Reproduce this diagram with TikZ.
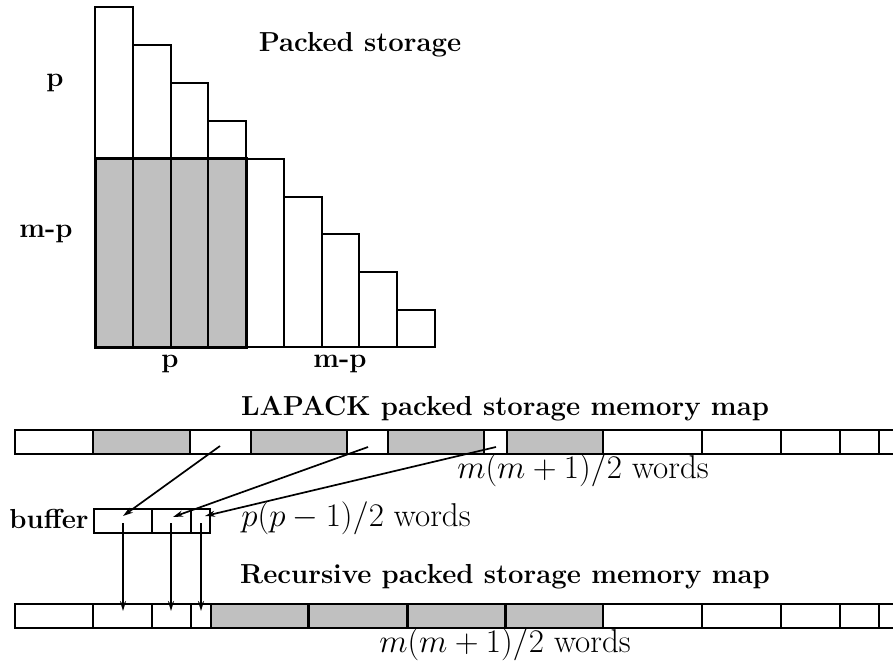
\RequirePackage{fix-cm}
\documentclass[tikz,border=0pt]{standalone}
\usetikzlibrary{arrows.meta}
\definecolor{cellgray}{RGB}{192,192,192}
\tikzset{
  cell/.style={draw=black, line width=2pt},
  thickcell/.style={draw=black, line width=3pt},
  lbl/.style={font=\fontsize{27.5}{32}\selectfont\bfseries, inner sep=0pt, anchor=base},
  mlbl/.style={font=\fontsize{33}{38}\selectfont, inner sep=0pt, anchor=base},
  arr/.style={line width=1.7pt, -{Stealth[length=10pt,width=6pt]}},
}
\begin{document}
\begin{tikzpicture}[x=1pt,y=-1pt]
\useasboundingbox (0,0) rectangle (893,663);
\clip (0,0) rectangle (893,663);

% ---------- packed storage staircase ----------
\fill[cellgray] (95,158.3) rectangle (246,347);
\foreach \i in {0,...,8} {
  \pgfmathsetmacro\xl{95+37.75*\i}
  \pgfmathsetmacro\xr{95+37.75*(\i+1)}
  \pgfmathsetmacro\yt{7+37.9*\i}
  \draw[cell] (\xl,\yt) rectangle (\xr,347);
}
\draw[thickcell] (95,158.3) rectangle (246,347);

\node[lbl] (title) at (360,51.7) {Packed storage};
\node[lbl] (lp)    at (55,87)    {p};
\node[lbl] (lmp)   at (46,237)   {m-p};
\node[lbl] (bp)    at (170,367)  {p};
\node[lbl] (bmp)   at (340,367)  {m-p};

% ---------- LAPACK memory map ----------
\foreach \a/\b in {93.3/190, 250.7/347.3, 388.3/484.3, 506.7/603}
  \fill[cellgray] (\a,430) rectangle (\b,454);
\draw[cell] (15,430) rectangle (905,454);
\foreach \x in {93.3,190,250.7,347.3,388.3,484.3,506.7,603,701.7,780.7,840,879}
  \draw[cell] (\x,430) -- (\x,454);
\node[lbl]  (lapack) at (505,415) {LAPACK packed storage memory map};
\node[mlbl] (w1)     at (583,478) {$m(m+1)/2$ words};

% ---------- buffer ----------
\draw[cell] (94.3,509) rectangle (210,533);
\foreach \x in {151.7,191}
  \draw[cell] (\x,509) -- (\x,533);
\node[lbl]  (buf) at (49,528)  {buffer};
\node[mlbl] (w2)  at (356,526) {$p(p-1)/2$ words};

% ---------- recursive memory map ----------
\foreach \a/\b in {211/308.3, 308.3/407.3, 407.3/505, 505/603}
  \fill[cellgray] (\a,604) rectangle (\b,628);
\draw[cell] (15,604) rectangle (905,628);
\foreach \x in {93.3,151.7,191,211,603,701.7,780.7,840,879}
  \draw[cell] (\x,604) -- (\x,628);
\foreach \x in {308.3,407.3,505}
  \draw[thickcell] (\x,604) -- (\x,628);
\node[lbl]  (rec) at (505,583) {Recursive packed storage memory map};
\node[mlbl] (w3)  at (505,652) {$m(m+1)/2$ words};

% ---------- arrows ----------
\coordinate (l1) at (220,446);
\coordinate (l2) at (368,447);
\coordinate (l3) at (496,447);
\coordinate (b1) at (123,516);
\coordinate (b2) at (173,517);
\coordinate (b3) at (205,516);
\draw[arr] (l1) -- (b1);
\draw[arr] (l2) -- (b2);
\draw[arr] (l3) -- (b3);

\coordinate (v1s) at (123,523);
\coordinate (v2s) at (171,523);
\coordinate (v3s) at (201,523);
\coordinate (v1e) at (123,611);
\coordinate (v2e) at (171,611);
\coordinate (v3e) at (201,611);
\draw[arr] (v1s) -- (v1e);
\draw[arr] (v2s) -- (v2e);
\draw[arr] (v3s) -- (v3e);
\end{tikzpicture}
\end{document}
